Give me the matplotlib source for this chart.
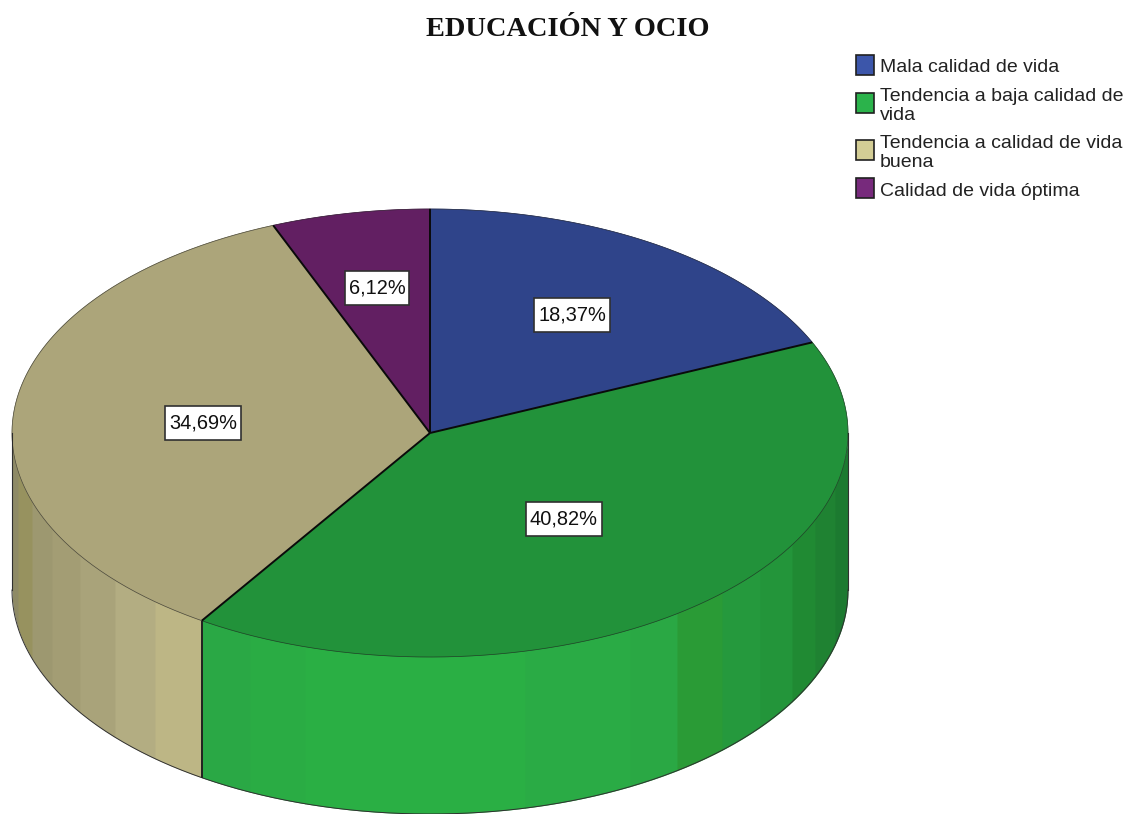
# -*- coding: utf-8 -*-
"""Educacion y ocio, 3D pie drawn by hand since matplotlib has no such pie."""

import matplotlib.pyplot as plt
from matplotlib.patches import Polygon, Rectangle
import numpy as np

title = "EDUCACIÓN Y OCIO"
categories = ["Mala calidad de vida",
              "Tendencia a baja calidad de\nvida",
              "Tendencia a calidad de vida\nbuena",
              "Calidad de vida óptima"]
values = [18.37, 40.82, 34.69, 6.12]
value_labels = ["18,37%", "40,82%", "34,69%", "6,12%"]

top_colors = ["#2F448A", "#22923A", "#ACA57A", "#621F62"]
legend_colors = ["#3C56AA", "#2BB34B", "#D3CD95", "#772A7C"]

# shading bands on the pie wall, left to right (pixel edges, then colours)
band_edges = [12, 18, 32, 52, 80, 115, 155, 202,
              250, 305, 525, 630, 677, 722, 760, 792, 815, 835, 848]
band_colors = ["#8E8A66", "#97925F", "#9D9870", "#A39D74", "#A9A37A",
               "#B3AD82", "#BDB685",
               "#2AA845", "#2AAC44", "#2AAF44", "#2AAB45", "#2AA844",
               "#2A9B36", "#25993D", "#23953A", "#208A33", "#1F8232", "#1C7A30"]

label_pos = [(572, 315), (564, 519), (203, 423), (377, 288)]
legend_y = [65, 103, 150, 188]
legend_text_y = [67, 106, 153, 191]

CX, CY, RX, RY, DEPTH = 430, 433, 418, 224, 157


def rim(theta):
    """Point on the top ellipse, theta clockwise from 12 o'clock."""
    return CX + RX * np.sin(theta), CY - RY * np.cos(theta)


def main():
    fig = plt.figure(figsize=(11.35, 8.14), dpi=100)
    ax = fig.add_axes([0, 0, 1, 1])
    ax.set_xlim(0, 1135)
    ax.set_ylim(814, 0)
    ax.axis("off")

    # wall of the pie
    for x0, x1, col in zip(band_edges[:-1], band_edges[1:], band_colors):
        xs = np.linspace(x0, x1 + 0.5, 40)
        ys = CY + RY * np.sqrt(np.clip(1 - ((xs - CX) / RX) ** 2, 0, 1))
        ax.fill_between(np.minimum(xs, CX + RX), ys - 3, ys + DEPTH, color=col, lw=0)

    # wall outline
    t = np.linspace(np.pi / 2, 3 * np.pi / 2, 300)
    x, y = rim(t)
    ax.plot(x, y + DEPTH, color="#303030", lw=0.7)
    ax.plot([CX - RX, CX - RX], [CY, CY + DEPTH], color="#303030", lw=0.8)
    ax.plot([CX + RX, CX + RX], [CY, CY + DEPTH], color="#303030", lw=0.8)

    # top face
    edges = np.cumsum([0] + values) / sum(values) * 2 * np.pi
    for a0, a1, col in zip(edges[:-1], edges[1:], top_colors):
        t = np.linspace(a0, a1, 200)
        x, y = rim(t)
        pts = np.column_stack([np.r_[CX, x], np.r_[CY, y]])
        ax.add_patch(Polygon(pts, closed=True, facecolor=col, edgecolor=col, lw=0.5))
    t = np.linspace(0, 2 * np.pi, 600)
    x, y = rim(t)
    ax.plot(x, y, color="#202020", lw=0.5, alpha=0.7)

    # spokes and the one visible wall seam
    for a in edges[:-1]:
        x, y = rim(a)
        ax.plot([CX, x], [CY, y], color="#0A0A0A", lw=1.4, solid_capstyle="butt")
        if np.cos(a) < 0:
            ax.plot([x, x], [y, y + DEPTH], color="#202020", lw=1.4, solid_capstyle="butt")

    # value labels in white boxes
    renderer = fig.canvas.get_renderer()
    for (x, y), s in zip(label_pos, value_labels):
        txt = ax.text(x, y, s, ha="center", va="center", fontsize=14.4, color="#101010",
                      family="Liberation Sans", zorder=4)
        w = txt.get_window_extent(renderer).width + 8
        ax.add_patch(Rectangle((x - w / 2, y - 17), w, 34, facecolor="white",
                               edgecolor="#303030", lw=1.2, zorder=3))

    ax.text(568, 30, title, ha="center", va="center", fontsize=20.4,
            family="Liberation Serif", color="#111111", weight="bold")

    # legend
    for y, ty, s, col in zip(legend_y, legend_text_y, categories, legend_colors):
        ax.add_patch(Rectangle((856, y - 10), 18, 20, facecolor=col, edgecolor="#202020", lw=1.2))
        ax.text(880, ty, s, ha="left", va="center", fontsize=14.0, color="#222222",
                family="Liberation Sans", linespacing=1.12)

    plt.savefig("out.png", dpi=100)


if __name__ == "__main__":
    main()
